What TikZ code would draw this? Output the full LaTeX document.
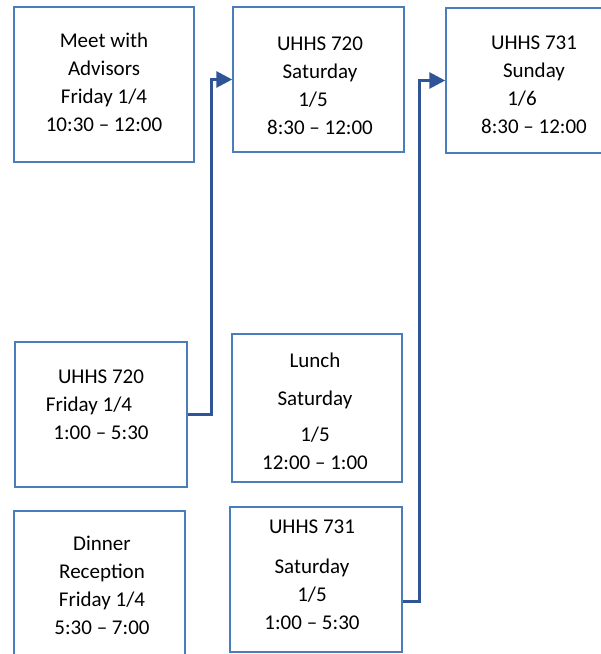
\documentclass[tikz,border=0pt]{standalone}
\usepackage{fontspec}
\setmainfont{Carlito}
\usetikzlibrary{arrows.meta}
\pgfdeclarelayer{edgelayer}
\pgfdeclarelayer{nodelayer}
\pgfsetlayers{edgelayer,nodelayer,main}
\definecolor{boxblue}{HTML}{4A7EBB}
\definecolor{linkblue}{HTML}{2F5597}
\tikzset{font=\fontsize{21}{28}\selectfont}
\tikzstyle{box}=[draw=boxblue,line width=1.5pt,minimum width=171pt,minimum height=145pt,inner sep=0pt]
\tikzstyle{txt}=[align=center,inner sep=0pt]
\tikzstyle{link}=[draw=linkblue,line width=3pt,-{Triangle[length=16pt,width=16pt]}]

\begin{document}
\begin{tikzpicture}[x=1pt,y=-1pt]
	\useasboundingbox (0,0) rectangle (601,654);
	\begin{pgfonlayer}{nodelayer}
		\node [style=box, minimum width=180pt, minimum height=155pt] (meet) at (104, 84.5) {};
		\node [style=box] (sat720) at (318.5, 79.5) {};
		\node [style=box] (sun731) at (531.5, 80.5) {};
		\node [style=box, minimum width=172pt] (fri720) at (101, 414.5) {};
		\node [style=box] (dinner) at (99.5, 583.5) {};
		\node [style=box, minimum width=170pt, minimum height=148pt] (lunch) at (317, 408) {};
		\node [style=box, minimum width=172pt] (sat731) at (316, 579.5) {};
		\node [style=txt] (meet-t) at (104, 82) {Meet with\\Advisors\\Friday 1/4\\10:30 -- 12:00};
		\node [style=txt] (sat720-t) at (320, 86) {UHHS 720\\Saturday\\1/5\hbox to 14pt{}\\8:30 -- 12:00};
		\node [style=txt] (sun731-t) at (534, 84.5) {UHHS 731\\Sunday\\1/6\hbox to 24pt{}\\8:30 -- 12:00};
		\node [style=txt] (fri720-t) at (101, 405) {UHHS 720\\Friday 1/4\hbox to 24pt{}\\1:00 -- 5:30};
		\node [style=txt] (dinner-t) at (102, 585) {Dinner\\Reception\\Friday 1/4\\5:30 -- 7:00};
		\node [style=txt] (lunch-t) at (315, 411) {Lunch\\[10pt]Saturday\\[8pt]1/5\\12:00 -- 1:00};
		\node [style=txt] (sat731-t) at (312, 574.5) {UHHS 731\\[12pt]Saturday\\1/5\\1:00 -- 5:30};
	\end{pgfonlayer}
	\begin{pgfonlayer}{edgelayer}
		\draw [style=link] (fri720.east) -- ++(24,0) |- (sat720.west);
		\draw [style=link] ([yshift=-22pt]sat731.east) -- ++(17,0) |- (sun731.west);
	\end{pgfonlayer}
\end{tikzpicture}
\end{document}
